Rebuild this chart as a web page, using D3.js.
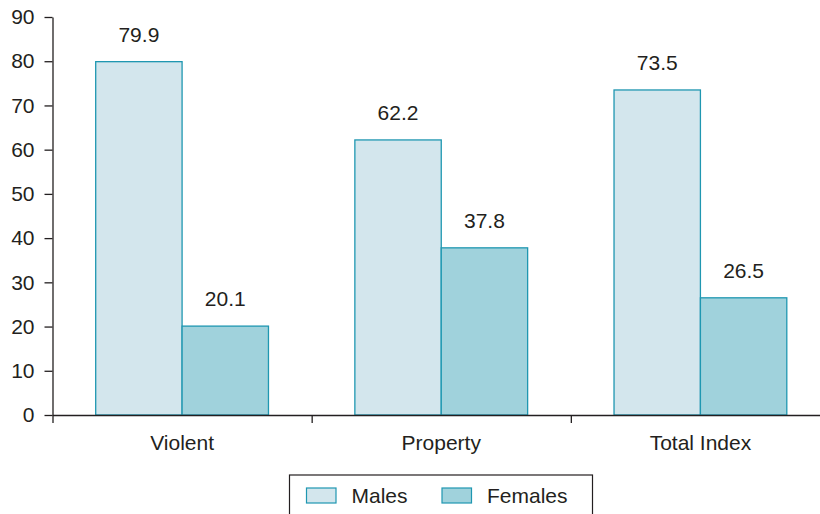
<!DOCTYPE html>
<html>
<head>
<meta charset="utf-8">
<script src="https://cdn.jsdelivr.net/npm/d3@7"></script>
<style>
  html, body { margin: 0; padding: 0; background: #fff; }
  svg text { font-family: "Liberation Sans", Arial, Helvetica, sans-serif; fill: #231f20; }
</style>
</head>
<body>
<svg id="chart" width="820" height="514"></svg>
<script>
// Arrest share by sex, percent
const categories = ["Violent", "Property", "Total Index"];
const seriesNames = ["Males", "Females"];
const males = [79.9, 62.2, 73.5];
const females = [20.1, 37.8, 26.5];
const yTicks = [0, 10, 20, 30, 40, 50, 60, 70, 80, 90];

const colors = { Males: "#d3e6ed", Females: "#a0d2dc" };
const strokeColor = "#1f97b1";
const ink = "#231f20";
const fontSize = 21;

const svg = d3.select("#chart");
const plotLeft = 52.5, plotRight = 830, plotTop = 17, plotBottom = 415;

const x0 = d3.scaleBand().domain(categories).range([plotLeft, plotRight]).padding(0);
const x1 = d3.scaleBand().domain(seriesNames).range([0, x0.bandwidth()])
  .paddingInner(0).paddingOuter(0.5);
const y = d3.scaleLinear().domain([0, 90]).range([plotBottom, plotTop]);

const rows = categories.map((c, i) => ({
  category: c,
  values: [
    { key: "Males", value: males[i] },
    { key: "Females", value: females[i] }
  ]
}));

// Bars
const groups = svg.append("g").selectAll("g").data(rows).join("g")
  .attr("transform", d => `translate(${x0(d.category)},0)`);

groups.selectAll("rect").data(d => d.values).join("rect")
  .attr("x", d => x1(d.key))
  .attr("y", d => y(d.value))
  .attr("width", x1.bandwidth())
  .attr("height", d => y(0) - y(d.value))
  .attr("fill", d => colors[d.key])
  .attr("stroke", strokeColor)
  .attr("stroke-width", 1.3);

// Value labels
groups.selectAll("text.val").data(d => d.values).join("text")
  .attr("class", "val")
  .attr("x", d => x1(d.key) + x1.bandwidth() / 2)
  .attr("y", d => y(d.value) - 20)
  .attr("text-anchor", "middle")
  .attr("font-size", fontSize)
  .text(d => d.value.toFixed(1));

// Y axis
const yAxis = svg.append("g")
  .attr("transform", `translate(${plotLeft},0)`)
  .call(d3.axisLeft(y).tickValues(yTicks).tickSize(8).tickPadding(10).tickSizeOuter(0));
yAxis.select(".domain").attr("stroke", ink).attr("stroke-width", 1.3);
yAxis.selectAll(".tick line").attr("stroke", ink).attr("stroke-width", 1.3);
yAxis.selectAll(".tick text").attr("font-size", fontSize).attr("fill", ink)
  .attr("font-family", "Liberation Sans, Arial, sans-serif");

// X axis with ticks at category boundaries
const boundaries = categories.map(c => x0(c)).concat([plotRight]);
const xLin = d3.scaleLinear().domain([plotLeft, plotRight]).range([plotLeft, plotRight]);
const xAxis = svg.append("g")
  .attr("transform", `translate(0,${plotBottom})`)
  .call(d3.axisBottom(xLin).tickValues(boundaries).tickSize(8).tickSizeOuter(0).tickFormat(""));
xAxis.select(".domain").attr("stroke", ink).attr("stroke-width", 1.3);
xAxis.selectAll(".tick line").attr("stroke", ink).attr("stroke-width", 1.3);

// Category labels
svg.append("g").selectAll("text").data(categories).join("text")
  .attr("x", c => x0(c) + x0.bandwidth() / 2)
  .attr("y", plotBottom + 35)
  .attr("text-anchor", "middle")
  .attr("font-size", fontSize)
  .text(c => c);

// Legend
const legend = svg.append("g");
legend.append("rect")
  .attr("x", 289.5).attr("y", 475)
  .attr("width", 303).attr("height", 50)
  .attr("fill", "none").attr("stroke", ink).attr("stroke-width", 1.2);

const legendX = [306.5, 442];
const items = legend.selectAll("g.item").data(seriesNames).join("g")
  .attr("class", "item")
  .attr("transform", (d, i) => `translate(${legendX[i]},488)`);
items.append("rect")
  .attr("width", 29.5).attr("height", 15)
  .attr("fill", d => colors[d])
  .attr("stroke", strokeColor).attr("stroke-width", 1.2);
items.append("text")
  .attr("x", 45).attr("y", 15)
  .attr("font-size", fontSize)
  .text(d => d);
</script>
</body>
</html>
